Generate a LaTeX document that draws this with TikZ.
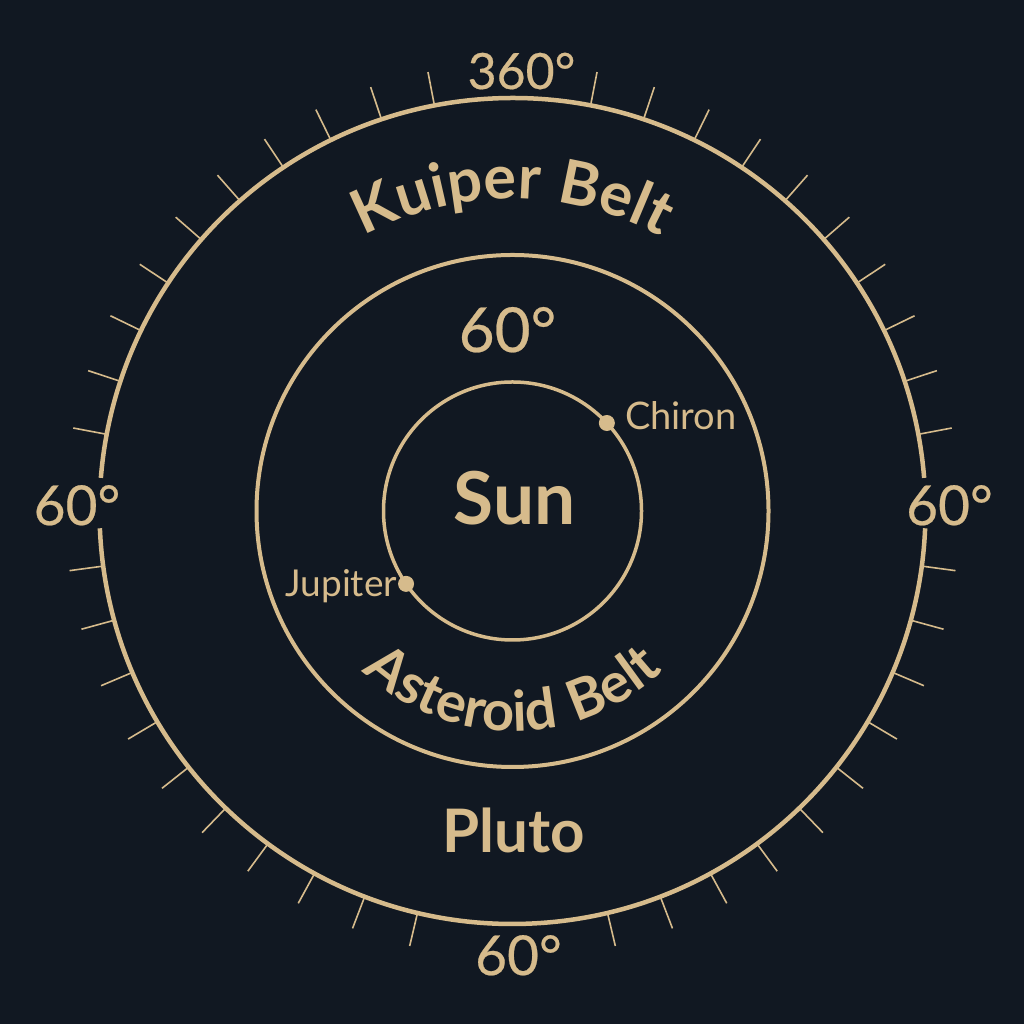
\documentclass[tikz,border=0pt]{standalone}
\usepackage{fontspec}
\setmainfont{Lato}
\newfontfamily\latomed[FakeBold=0.4]{Lato}
\newfontfamily\latospaced[LetterSpace=7]{Lato}
\newfontfamily\latospacedk[LetterSpace=3]{Lato}
\usetikzlibrary{decorations.text}
\definecolor{bg}{HTML}{111822}
\definecolor{tan}{HTML}{D6BB8C}
\newcommand\myKfont{\latospacedk\fontsize{61}{61}\selectfont\bfseries}
\newcommand\myAfont{\latospaced\fontsize{56}{56}\selectfont\bfseries}
\tikzset{
  orbit/.style={draw=tan},
  tick/.style={draw=tan, line width=1.6pt},
  lbl/.style={text=tan, inner sep=0pt, outer sep=0pt},
  dot/.style={fill=tan},
}
\begin{document}
\begin{tikzpicture}[x=1pt,y=1pt]
\fill[bg] (0,0) rectangle (1024,1024);
\useasboundingbox (0,0) rectangle (1024,1024);
\coordinate (C) at (512.5,513);
% circles
\draw[orbit, line width=4.5pt] ([shift={(4.6:413)}]C) arc[start angle=4.6, end angle=175.4, radius=413];
\draw[orbit, line width=4.5pt] ([shift={(182.4:413)}]C) arc[start angle=182.4, end angle=357.6, radius=413];
\draw[orbit, line width=4pt] (C) circle[radius=256];
\draw[orbit, line width=3.5pt] (C) circle[radius=129];
% ticks
\foreach \k in {0,...,9}{
  \pgfmathsetmacro\a{10.9+7.6*\k}
  \draw[tick] ([shift={(90+\a:414)}]C) -- ([shift={(90+\a:447)}]C);
  \draw[tick] ([shift={(90-\a:414)}]C) -- ([shift={(90-\a:447)}]C);
  \pgfmathsetmacro\b{13.3+7.67*\k}
  \draw[tick] ([shift={(270+\b:414)}]C) -- ([shift={(270+\b:447)}]C);
  \draw[tick] ([shift={(270-\b:414)}]C) -- ([shift={(270-\b:447)}]C);
}
% degree labels
\node[lbl, anchor=base, font=\latomed\fontsize{50}{50}\selectfont] (top) at (521.5,935) {360°};
\node[lbl, anchor=base, font=\latomed\fontsize{55}{55}\selectfont] (left) at (77,499) {60°};
\node[lbl, anchor=base, font=\latomed\fontsize{55}{55}\selectfont] (right) at (949.5,499) {60°};
\node[lbl, anchor=base, font=\latomed\fontsize{55}{55}\selectfont] (bottom) at (518.5,49) {60°};
\node[lbl, anchor=base, font=\latomed\fontsize{62}{62}\selectfont] (inner) at (507.5,672) {60°};
% names
\node[lbl, anchor=base, font=\fontsize{73}{73}\selectfont\bfseries] (sun) at (514.5,499) {Sun};
\node[lbl, anchor=base, font=\fontsize{60}{60}\selectfont\bfseries] (pluto) at (513.5,171) {Pluto};
% planets
\coordinate (chironpt) at ([shift={(43:129)}]C);
\coordinate (jupiterpt) at ([shift={(214.4:129)}]C);
\fill[dot] (chironpt) circle[radius=8];
\fill[dot] (jupiterpt) circle[radius=8];
\node[lbl, anchor=base west, font=\fontsize{38}{38}\selectfont] (chiron) at (625,594) {Chiron};
\node[lbl, anchor=base east, font=\fontsize{37}{37}\selectfont] (jupiter) at (397,427) {Jupiter};
% curved labels
\path[decorate, decoration={text along path, text align=center, text color=tan,
  text={|\myKfont|Kuiper Belt}}]
  ([shift={(135:312)}]C) arc[start angle=135, end angle=45, radius=312];
\path[decorate, decoration={text along path, text align=center, text color=tan,
  text={|\myAfont|Asteroid Belt}}]
  ([shift={(200:220)}]C) arc[start angle=200, end angle=340, radius=220];
\end{tikzpicture}
\end{document}
